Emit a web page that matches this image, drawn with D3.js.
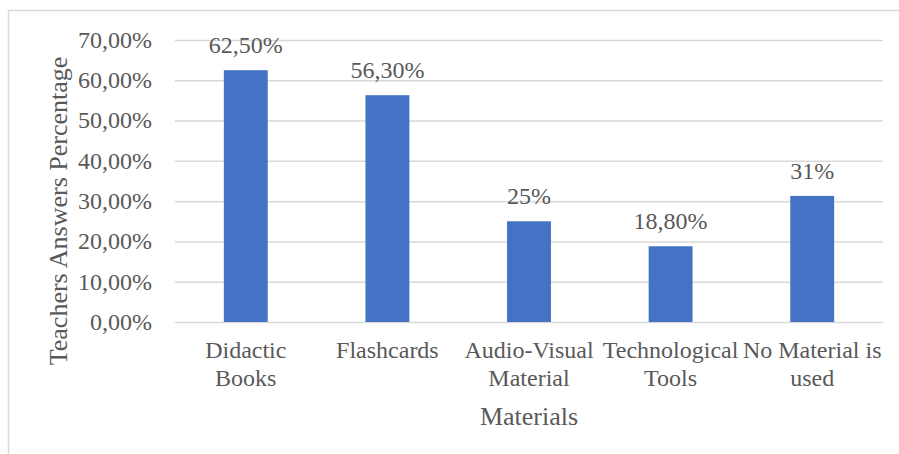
<!DOCTYPE html>
<html><head><meta charset="utf-8">
<script src="https://cdn.jsdelivr.net/npm/d3@7"></script>
</head><body style="margin:0">
<script>
const categories = [["Didactic","Books"],["Flashcards"],["Audio-Visual","Material"],["Technological","Tools"],["No Material is","used"]];
const values = [62.5, 56.3, 25, 18.8, 31.3];
const valueLabels = ["62,50%","56,30%","25%","18,80%","31%"];
const yTicks = [0,10,20,30,40,50,60,70];
const yTitle = "Teachers Answers Percentage";
const xTitle = "Materials";

(function(){
const F="Liberation Serif";
const TXT="#595959";
const FS=24;
const W=899,H=454;
const svg=d3.select("body").append("svg").attr("width",W).attr("height",H);
svg.append("rect").attr("x",8.5).attr("y",10.5).attr("width",W).attr("height",H).attr("fill","none").attr("stroke","#d9d9d9").attr("stroke-width",1.5);

const pl=175,pr=883,pt=40,pb=322;
const x=d3.scaleBand().domain(d3.range(values.length)).range([pl,pr]).paddingInner(0.69).paddingOuter(0.345);
const y=d3.scaleLinear().domain([0,70]).range([pb,pt]);

const fmt=d=>d.toFixed(2).replace(".",",")+"%";
const yAxis=d3.axisLeft(y).tickValues(yTicks).tickSize(-(pr-pl)).tickFormat(fmt);
const ga=svg.append("g").attr("transform",`translate(${pl},0)`).call(yAxis);
ga.select(".domain").remove();
ga.selectAll("line").attr("stroke","#d9d9d9").attr("stroke-width",1.5);
ga.selectAll("text").remove();

yTicks.forEach(t=>{
  svg.append("text").attr("x",152).attr("y",y(t)).attr("dy","0.33em")
    .attr("text-anchor","end").attr("font-family",F).attr("font-size",FS).attr("fill",TXT)
    .text(yAxis.tickFormat()(t));
});

values.forEach((v,i)=>{
  svg.append("rect").attr("x",x(i)).attr("width",x.bandwidth())
    .attr("y",y(v)).attr("height",pb-y(v)).attr("fill","#4472c4");
});

values.forEach((v,i)=>{
  svg.append("text").attr("x",x(i)+x.bandwidth()/2).attr("y",y(v)-17)
    .attr("text-anchor","middle").attr("font-family",F).attr("font-size",FS).attr("fill",TXT)
    .text(valueLabels[i]);
});

categories.forEach((lines,i)=>{
  lines.forEach((s,j)=>{
    svg.append("text").attr("x",x(i)+x.bandwidth()/2).attr("y",358+j*28)
      .attr("text-anchor","middle").attr("font-family",F).attr("font-size",FS).attr("fill",TXT)
      .text(s);
  });
});

svg.append("text").attr("x",(pl+pr)/2).attr("y",425).attr("text-anchor","middle")
 .attr("font-family",F).attr("fill",TXT).attr("font-size",26).text(xTitle);
svg.append("text").attr("transform",`translate(67,211) rotate(-90)`).attr("text-anchor","middle")
 .attr("font-family",F).attr("fill",TXT).attr("font-size",26).text(yTitle);
})();
</script>
</body></html>
